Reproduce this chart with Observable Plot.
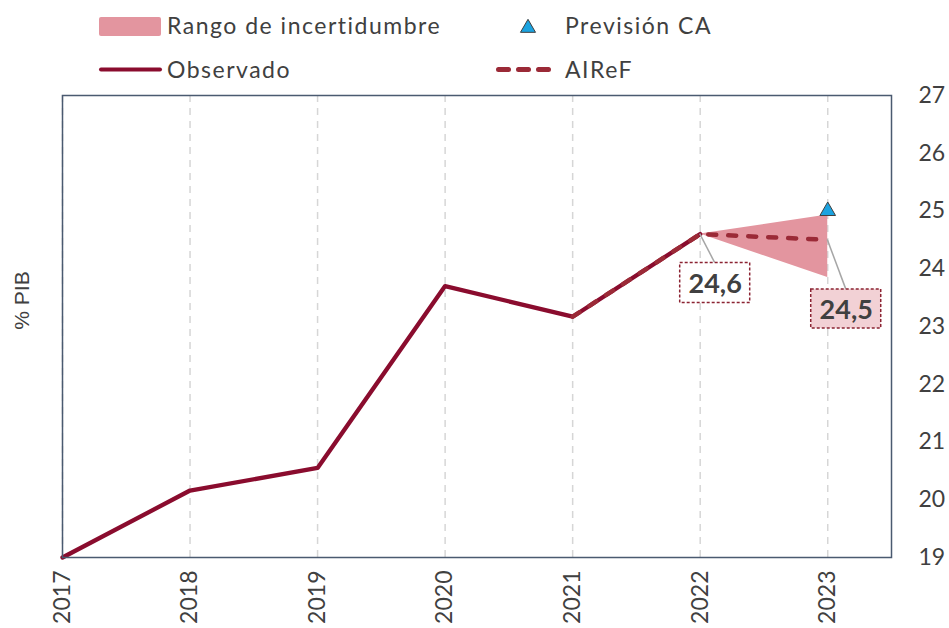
<!DOCTYPE html>
<html><head><meta charset="utf-8">
<script src="https://cdn.jsdelivr.net/npm/d3@7"></script>
<script src="https://cdn.jsdelivr.net/npm/@observablehq/plot@0.6"></script>
<style>
body{margin:0;background:#fff;}
#wrap{width:949px;height:628px;overflow:hidden;}
</style>
</head><body><div id="wrap"><svg id="legend" width="949" height="90"></svg><div id="chart"></div></div>
<script>
// ---- data ----
const obsYears = [2017, 2018, 2019, 2020, 2021, 2022];
const obsValues = [19.0, 20.16, 20.55, 23.70, 23.17, 24.6];
const airefYears = [2021, 2022, 2023];
const airefValues = [23.17, 24.6, 24.5];
const bandYears = [2022, 2023];
const bandLow = [24.6, 23.85];
const bandHigh = [24.6, 24.93];
const caYears = [2023];
const caValues = [25.0];
const labelYears = [2022, 2023];
const labelValues = [24.6, 24.5];
const xTicks = [2017, 2018, 2019, 2020, 2021, 2022, 2023];
const yTicks = [19, 20, 21, 22, 23, 24, 25, 26, 27];
const legendNames = ["Rango de incertidumbre", "Previsión CA", "Observado", "AIReF"];
const yLabel = "% PIB";

// ---- styles ----
const C = {
  obs: "#8a0c2e", aires: "#9b2a37", band: "#e3959f", ca: "#1ba3e0",
  text: "#404040", frame: "#4a5a70", grid: "#d6d6d6", conn: "#a6a6a6"
};
const labelStyle = [
  {dx: 15, dy: 49, w: 70, h: 40, fill: "#ffffff"},
  {dx: 18.5, dy: 69, w: 70, h: 39, fill: "#f2d1d5"}
];

const obs = obsYears.map((y, i) => ({year: y, value: obsValues[i]}));
const aires = airefYears.map((y, i) => ({year: y, value: airefValues[i]}));
const band = bandYears.map((y, i) => ({year: y, low: bandLow[i], high: bandHigh[i]}));
const ca = caYears.map((y, i) => ({year: y, value: caValues[i]}));
const labels = labelYears.map((y, i) => ({year: y, value: labelValues[i], ...labelStyle[i]}));
const fmt = v => d3.format(".1f")(v).replace(".", ",");

function annotations(...args) {
  const scales = args.find(a => a && typeof a.x === "function" && typeof a.y === "function");
  const g = d3.create("svg:g");
  labels.forEach(d => {
    const px = scales.x(d.year), py = scales.y(d.value);
    const cx = px + d.dx, cy = py + d.dy;
    g.append("line").attr("x1", px).attr("y1", py).attr("x2", cx).attr("y2", cy - d.h / 2)
      .attr("stroke", C.conn).attr("stroke-width", 1.5);
    g.append("rect").attr("x", cx - d.w / 2).attr("y", cy - d.h / 2)
      .attr("width", d.w).attr("height", d.h).attr("fill", d.fill)
      .attr("stroke", "#8b2332").attr("stroke-width", 1.5).attr("stroke-dasharray", "3,2");
  });
  return g.node();
}

const chart = Plot.plot({
  width: 949, height: 538,
  marginTop: 5, marginBottom: 71, marginLeft: 62, marginRight: 58,
  style: {fontFamily: "Lato, sans-serif", fontSize: "23px", color: C.text, overflow: "visible"},
  x: {domain: [2017, 2023.5]},
  y: {domain: [19, 27]},
  marks: [
    Plot.ruleX(xTicks, {stroke: C.grid, strokeWidth: 1.5, strokeDasharray: "7,6"}),
    Plot.areaY(band, {x: "year", y1: "low", y2: "high", fill: C.band}),
    Plot.line(obs, {x: "year", y: "value", stroke: C.obs, strokeWidth: 4.3}),
    Plot.line(aires, {x: "year", y: "value", stroke: C.aires, strokeWidth: 4.5, strokeDasharray: "8,12", strokeLinecap: "round"}),
    Plot.dot(ca, {x: "year", y: "value", symbol: "triangle", r: 5.8, fill: C.ca, stroke: C.text, strokeWidth: 1}),
    annotations,
    ...labels.map(d => Plot.text([d], {x: "year", y: "value", text: d => fmt(d.value), dx: d.dx, dy: d.dy + 1,
      fontWeight: "bold", fontSize: 27, fill: C.text})),
    Plot.frame({stroke: C.frame, strokeWidth: 1.5}),
    Plot.axisY({anchor: "right", ticks: yTicks, tickFormat: "d", tickSize: 0, tickPadding: 27, label: null}),
    Plot.axisX({ticks: xTicks, tickFormat: "d", tickRotate: -90, tickSize: 0, tickPadding: 13, label: null}),
    Plot.text([yLabel], {frameAnchor: "left", dx: -40, dy: -26, rotate: -90, textAnchor: "middle",
      fontFamily: "Liberation Sans, Arial, sans-serif", fontSize: 21, fill: C.text})
  ]
});
document.getElementById("chart").appendChild(chart);

// ---- legend ----
const lg = d3.select("#legend").style("display", "block")
  .style("font-family", "Lato, sans-serif").style("font-size", "23px").style("letter-spacing", "1.5px");
lg.append("rect").attr("x", 99).attr("y", 17).attr("width", 62).attr("height", 19).attr("rx", 2).attr("fill", C.band);
lg.append("text").attr("x", 167).attr("y", 34).attr("fill", C.text).text(legendNames[0]);
lg.append("path").attr("d", d3.symbol(d3.symbolTriangle, 98)()).attr("transform", "translate(528,28)")
  .attr("fill", C.ca).attr("stroke", C.text).attr("stroke-width", 1);
lg.append("text").attr("x", 565).attr("y", 34).attr("fill", C.text).text(legendNames[1]);
lg.append("line").attr("x1", 101).attr("x2", 160).attr("y1", 69.5).attr("y2", 69.5)
  .attr("stroke", C.obs).attr("stroke-width", 4).attr("stroke-linecap", "round");
lg.append("text").attr("x", 167).attr("y", 78).attr("fill", C.text).text(legendNames[2]);
lg.append("line").attr("x1", 498.5).attr("x2", 552.5).attr("y1", 69.5).attr("y2", 69.5)
  .attr("stroke", C.aires).attr("stroke-width", 5).attr("stroke-linecap", "round").attr("stroke-dasharray", "10,10");
lg.append("text").attr("x", 565).attr("y", 78).attr("fill", C.text).text(legendNames[3]);
</script>
</body></html>
